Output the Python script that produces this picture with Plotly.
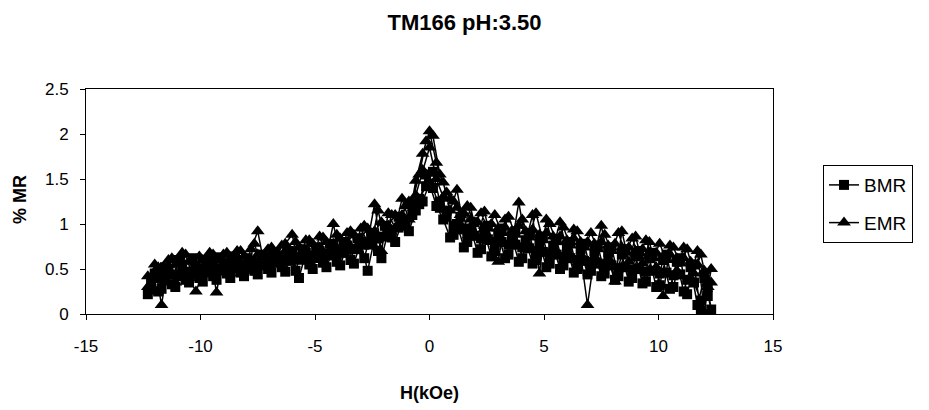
import plotly.graph_objects as go

# Field points (kOe) of the increasing sweeps
H_up = [-12.3, -12.0, -11.7, -11.4, -11.1, -10.8, -10.5, -10.2, -9.9, -9.6,
        -9.3, -9.0, -8.7, -8.4, -8.1, -7.8, -7.5, -7.2, -6.9, -6.6,
        -6.3, -6.0, -5.7, -5.4, -5.1, -4.8, -4.5, -4.2, -3.9, -3.6,
        -3.3, -3.0, -2.7, -2.4, -2.1, -1.8, -1.5, -1.2, -0.9, -0.6,
        -0.3, 0.0, 0.3, 0.6, 0.9, 1.2, 1.5, 1.8, 2.1, 2.4,
        2.7, 3.0, 3.3, 3.6, 3.9, 4.2, 4.5, 4.8, 5.1, 5.4,
        5.7, 6.0, 6.3, 6.6, 6.9, 7.2, 7.5, 7.8, 8.1, 8.4,
        8.7, 9.0, 9.3, 9.6, 9.9, 10.2, 10.5, 10.8, 11.1, 11.4,
        11.7, 12.0, 12.3]

# Field points (kOe) of the decreasing sweep, listed in ascending order
H_dn = [-12.15, -11.85, -11.55, -11.25, -10.95, -10.65, -10.35, -10.05, -9.75, -9.45,
        -9.15, -8.85, -8.55, -8.25, -7.95, -7.65, -7.35, -7.05, -6.75, -6.45,
        -6.15, -5.85, -5.55, -5.25, -4.95, -4.65, -4.35, -4.05, -3.75, -3.45,
        -3.15, -2.85, -2.55, -2.25, -1.95, -1.65, -1.35, -1.05, -0.75, -0.45,
        -0.15, 0.15, 0.45, 0.75, 1.05, 1.35, 1.65, 1.95, 2.25, 2.55,
        2.85, 3.15, 3.45, 3.75, 4.05, 4.35, 4.65, 4.95, 5.25, 5.55,
        5.85, 6.15, 6.45, 6.75, 7.05, 7.35, 7.65, 7.95, 8.25, 8.55,
        8.85, 9.15, 9.45, 9.75, 10.05, 10.35, 10.65, 10.95, 11.25, 11.55,
        11.85, 12.15]

# BMR (%): first increasing sweep (on H_up)
bmr_up = [0.22, 0.45, 0.28, 0.50, 0.30, 0.55, 0.35, 0.52, 0.36, 0.58,
          0.38, 0.56, 0.40, 0.60, 0.42, 0.58, 0.44, 0.62, 0.46, 0.64,
          0.47, 0.66, 0.40, 0.68, 0.50, 0.70, 0.52, 0.72, 0.54, 0.76,
          0.56, 0.80, 0.48, 0.84, 0.62, 0.92, 0.80, 1.02, 0.92, 1.15,
          1.25, 1.45, 1.20, 1.05, 0.85, 1.00, 0.74, 0.95, 0.68, 0.90,
          0.64, 0.88, 0.62, 0.85, 0.58, 0.82, 0.56, 0.80, 0.52, 0.76,
          0.50, 0.74, 0.46, 0.72, 0.44, 0.70, 0.42, 0.68, 0.38, 0.66,
          0.36, 0.64, 0.34, 0.62, 0.30, 0.60, 0.28, 0.58, 0.25, 0.52,
          0.10, 0.40, 0.05]

# BMR (%): decreasing sweep (on H_dn)
bmr_dn = [0.40, 0.25, 0.52, 0.33, 0.60, 0.38, 0.62, 0.40, 0.60, 0.42,
          0.63, 0.45, 0.64, 0.46, 0.62, 0.48, 0.66, 0.50, 0.68, 0.52,
          0.70, 0.48, 0.72, 0.55, 0.74, 0.57, 0.78, 0.58, 0.80, 0.60,
          0.84, 0.62, 0.90, 0.70, 0.98, 0.85, 1.08, 0.98, 1.20, 1.22,
          1.55, 1.58, 1.25, 1.15, 0.88, 1.08, 0.80, 1.02, 0.72, 0.98,
          0.70, 0.95, 0.66, 0.92, 0.62, 0.90, 0.60, 0.86, 0.56, 0.82,
          0.54, 0.80, 0.50, 0.78, 0.48, 0.76, 0.45, 0.74, 0.42, 0.72,
          0.40, 0.70, 0.36, 0.68, 0.32, 0.66, 0.30, 0.62, 0.22, 0.55,
          0.02, 0.30]

# BMR (%): second increasing sweep (on H_dn)
bmr_up2 = [0.34, 0.40, 0.38, 0.44, 0.42, 0.47, 0.45, 0.50, 0.47, 0.52,
           0.50, 0.54, 0.52, 0.55, 0.53, 0.57, 0.55, 0.59, 0.57, 0.61,
           0.59, 0.63, 0.61, 0.65, 0.63, 0.67, 0.65, 0.69, 0.68, 0.72,
           0.72, 0.77, 0.78, 0.84, 0.86, 0.93, 0.96, 1.05, 1.10, 1.28,
           1.42, 1.40, 1.18, 1.08, 0.98, 0.94, 0.90, 0.87, 0.84, 0.83,
           0.80, 0.80, 0.77, 0.77, 0.74, 0.73, 0.70, 0.69, 0.66, 0.66,
           0.63, 0.62, 0.60, 0.59, 0.56, 0.56, 0.54, 0.54, 0.51, 0.52,
           0.49, 0.50, 0.47, 0.48, 0.45, 0.46, 0.43, 0.44, 0.38, 0.35,
           0.15, 0.20]

# EMR (%): first increasing sweep (on H_up)
emr_up = [0.30, 0.55, 0.10, 0.60, 0.35, 0.68, 0.40, 0.25, 0.45, 0.68,
          0.24, 0.66, 0.45, 0.70, 0.48, 0.72, 0.92, 0.52, 0.74, 0.55,
          0.78, 0.88, 0.58, 0.82, 0.60, 0.86, 0.64, 1.00, 0.66, 0.90,
          0.70, 0.95, 0.80, 1.22, 0.70, 1.12, 0.95, 1.28, 1.05, 1.48,
          1.78, 2.03, 1.68, 1.46, 1.15, 1.38, 0.95, 1.18, 0.85, 1.14,
          0.80, 0.58, 1.05, 0.78, 1.24, 0.80, 1.10, 0.45, 1.05, 0.74,
          1.02, 0.70, 0.94, 0.66, 0.10, 0.64, 0.98, 0.62, 0.36, 0.92,
          0.58, 0.86, 0.56, 0.80, 0.52, 0.20, 0.76, 0.48, 0.74, 0.40,
          0.70, 0.02, 0.50]

# EMR (%): decreasing sweep (on H_dn)
emr_dn = [0.25, 0.52, 0.35, 0.62, 0.40, 0.66, 0.42, 0.64, 0.44, 0.66,
          0.46, 0.68, 0.48, 0.70, 0.50, 0.78, 0.55, 0.72, 0.56, 0.76,
          0.58, 0.80, 0.60, 0.82, 0.62, 0.85, 0.66, 0.88, 0.68, 0.92,
          0.72, 0.98, 0.75, 1.15, 0.85, 1.10, 1.00, 1.20, 1.25, 1.55,
          1.92, 1.98, 1.55, 1.35, 1.25, 1.10, 1.20, 1.02, 1.12, 0.95,
          1.10, 0.90, 1.08, 0.88, 1.05, 0.85, 1.12, 0.82, 1.00, 0.80,
          0.96, 0.76, 0.92, 0.74, 0.90, 0.72, 0.88, 0.70, 0.90, 0.68,
          0.84, 0.64, 0.82, 0.62, 0.78, 0.60, 0.74, 0.56, 0.72, 0.45,
          0.66, 0.30]

# EMR (%): second increasing sweep (on H_up)
emr_up2 = [0.42, 0.38, 0.48, 0.45, 0.55, 0.50, 0.58, 0.54, 0.60, 0.55,
           0.60, 0.56, 0.62, 0.58, 0.64, 0.60, 0.66, 0.64, 0.68, 0.66,
           0.70, 0.68, 0.74, 0.70, 0.78, 0.74, 0.80, 0.78, 0.84, 0.80,
           0.88, 0.84, 0.95, 0.92, 1.02, 0.98, 1.10, 1.10, 1.25, 1.32,
           1.60, 1.85, 1.50, 1.30, 1.28, 1.18, 1.12, 1.05, 1.02, 0.98,
           1.00, 0.95, 0.96, 0.92, 0.98, 0.92, 0.94, 0.88, 0.90, 0.86,
           0.86, 0.82, 0.84, 0.80, 0.80, 0.78, 0.80, 0.76, 0.78, 0.74,
           0.74, 0.70, 0.72, 0.68, 0.68, 0.64, 0.66, 0.62, 0.62, 0.58,
           0.55, 0.48, 0.35]

x_ticks = [-15, -10, -5, 0, 5, 10, 15]
x_labels = ["-15", "-10", "-5", "0", "5", "10", "15"]
y_ticks = [0, 0.5, 1, 1.5, 2, 2.5]
y_labels = ["0", "0.5", "1", "1.5", "2", "2.5"]

FONT = "Arial, Liberation Sans, sans-serif"

# each series is one continuous record: up, back down, and up again
bmr_x = H_up + H_dn[::-1] + H_dn
bmr_y = bmr_up + bmr_dn[::-1] + bmr_up2
emr_x = H_up + H_dn[::-1] + H_up
emr_y = emr_up + emr_dn[::-1] + emr_up2

fig = go.Figure()
fig.add_trace(go.Scatter(
    x=bmr_x, y=bmr_y, name="BMR", legendgroup="bmr", mode="lines+markers",
    line=dict(color="black", width=1.5),
    marker=dict(symbol="square", size=10, color="black"),
))
fig.add_trace(go.Scatter(
    x=emr_x, y=emr_y, name="EMR", legendgroup="emr", mode="lines+markers",
    line=dict(color="black", width=1.5),
    marker=dict(symbol="triangle-up", size=12, color="black"),
))

fig.update_layout(
    width=929, height=410,
    margin=dict(l=86, r=156, t=89, b=96),
    paper_bgcolor="white", plot_bgcolor="white",
    font=dict(family=FONT, size=17, color="black"),
    title=dict(text="<b>TM166 pH:3.50</b>", x=0.5, xanchor="center",
               y=0.945, yanchor="middle", font=dict(size=22)),
    showlegend=True,
    legend=dict(x=1.0728, xanchor="left", y=0.662, yanchor="top",
                bordercolor="black", borderwidth=1, bgcolor="white",
                font=dict(size=19), tracegroupgap=10, itemwidth=30),
    annotations=[
        dict(text="<b>% MR</b>", xref="paper", yref="paper", x=-0.096, y=0.507,
             xanchor="center", yanchor="middle",
             textangle=-90, showarrow=False, font=dict(size=18)),
        dict(text="<b>H(kOe)</b>", xref="paper", yref="paper", x=0.5, y=-0.351,
             xanchor="center", yanchor="middle",
             showarrow=False, font=dict(size=18)),
    ],
)
fig.update_xaxes(range=[-15, 15], tickmode="array", tickvals=x_ticks, ticktext=x_labels,
                 showgrid=False, zeroline=False,
                 showline=True, linecolor="black", linewidth=1, mirror=True,
                 ticks="outside", ticklen=5, tickcolor="black", ticklabelstandoff=12)
fig.update_yaxes(range=[0, 2.5], tickmode="array", tickvals=y_ticks, ticktext=y_labels,
                 showgrid=False, zeroline=False,
                 showline=True, linecolor="black", linewidth=1, mirror=True,
                 ticks="outside", ticklen=5, tickcolor="black", ticklabelstandoff=8)

fig.write_html("out.html")
